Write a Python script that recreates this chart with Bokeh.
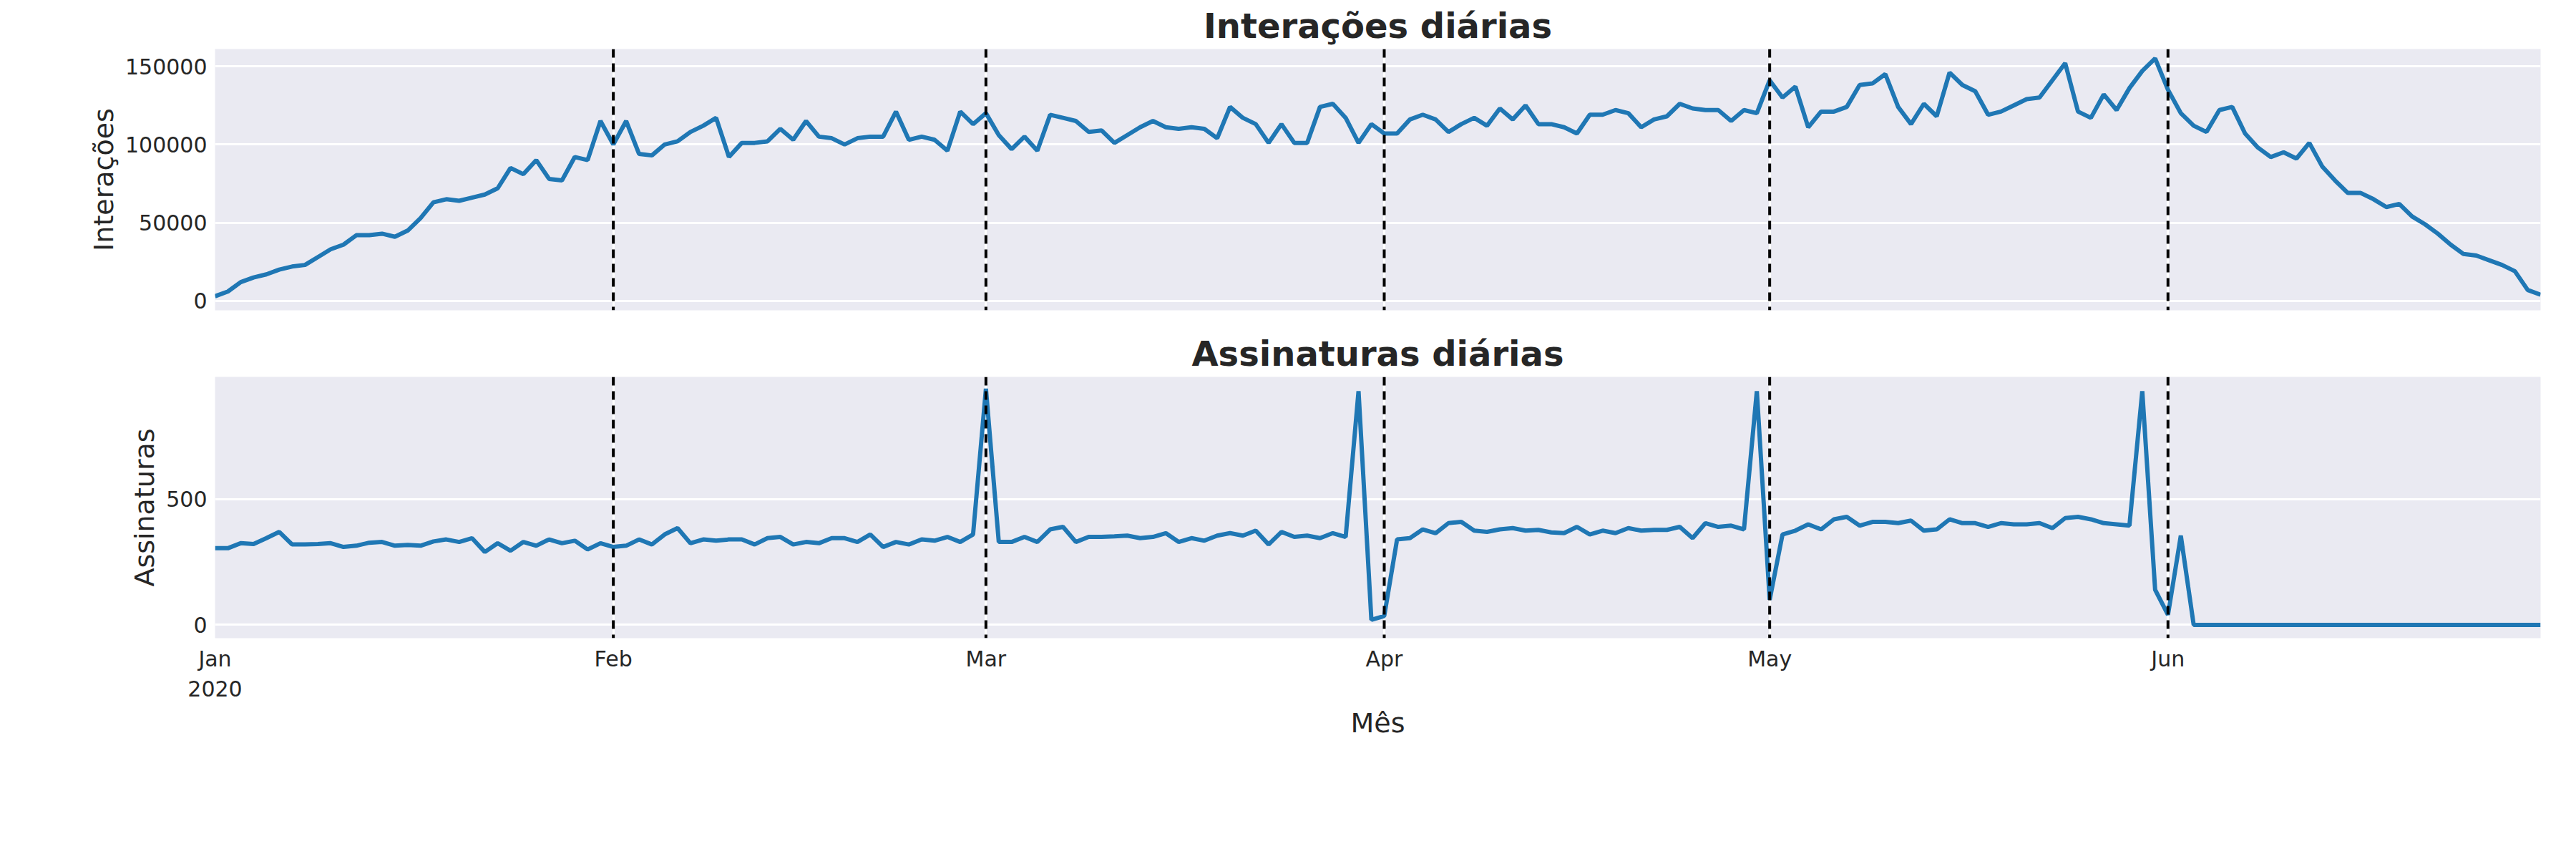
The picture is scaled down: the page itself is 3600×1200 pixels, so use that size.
from bokeh.plotting import figure
from bokeh.layouts import column
from bokeh.models import Span, FixedTicker, NumeralTickFormatter
from bokeh.embed import file_html
from bokeh.resources import INLINE

# daily values, 1 Jan 2020 .. 30 Jun 2020 (day index 0..181)
interacoes = [
    # Jan
    3000, 6000, 12000, 15000, 17000, 20000, 22000, 23000, 28000, 33000, 36000, 42000, 42000, 43000, 41000, 45000,
    53000, 63000, 65000, 64000, 66000, 68000, 72000, 85000, 81000, 90000, 78000, 77000, 92000, 90000, 115000,
    # Feb
    100000, 115000, 94000, 93000, 100000, 102000, 108000, 112000, 117000, 92000, 101000, 101000, 102000, 110000, 103000,
    115000, 105000, 104000, 100000, 104000, 105000, 105000, 121000, 103000, 105000, 103000, 96000, 121000, 113000,
    # Mar
    120000, 106000, 97000, 105000, 96000, 119000, 117000, 115000, 108000, 109000, 101000, 106000, 111000, 115000, 111000,
    110000, 111000, 110000, 104000, 124000, 117000, 113000, 101000, 113000, 101000, 101000, 124000, 126000, 117000,
    101000, 113000,
    # Apr
    107000, 107000, 116000, 119000, 116000, 108000, 113000, 117000, 112000, 123000, 116000, 125000, 113000, 113000,
    111000, 107000, 119000, 119000, 122000, 120000, 111000, 116000, 118000, 126000, 123000, 122000, 122000, 115000,
    122000, 120000,
    # May
    141000, 130000, 137000, 111000, 121000, 121000, 124000, 138000, 139000, 145000, 124000, 113000, 126000, 118000,
    146000, 138000, 134000, 119000, 121000, 125000, 129000, 130000, 141000, 152000, 121000, 117000, 132000, 122000,
    136000, 147000, 155000,
    # Jun
    135000, 120000, 112000, 108000, 122000, 124000, 107000, 98000, 92000, 95000, 91000, 101000, 86000, 77000, 69000,
    69000, 65000, 60000, 62000, 54000, 49000, 43000, 36000, 30000, 29000, 26000, 23000, 19000, 7000, 4000,
]

assinaturas = [
    # Jan
    305, 305, 325, 322, 345, 370, 320, 320, 322, 325, 310, 315, 327, 330, 315, 318, 315, 332, 340, 330, 345, 290,
    325, 295, 330, 315, 340, 325, 335, 300, 325,
    # Feb
    310, 315, 340, 320, 360, 385, 325, 340, 335, 340, 340, 320, 345, 350, 320, 330, 325, 345, 345, 330, 360, 310,
    330, 320, 340, 335, 350, 330, 360,
    # Mar
    940, 330, 330, 350, 330, 380, 390, 330, 350, 350, 352, 355, 345, 350, 365, 330, 345, 335, 355, 365, 355, 375,
    320, 370, 350, 355, 345, 365, 350, 930, 20,
    # Apr
    35, 340, 345, 380, 365, 405, 410, 375, 370, 380, 385, 375, 378, 368, 365, 390, 360, 375, 365, 385, 375, 378,
    378, 390, 345, 405, 390, 395, 380, 930,
    # May
    100, 360, 375, 400, 380, 420, 430, 395, 410, 410, 405, 415, 375, 380, 420, 405, 405, 390, 405, 400, 400, 405,
    385, 425, 430, 420, 405, 400, 395, 930, 140,
    # Jun
    40, 355, 0, 0, 0, 0, 0, 0, 0, 0, 0, 0, 0, 0, 0, 0, 0, 0, 0, 0, 0, 0, 0, 0, 0, 0, 0, 0, 0, 0,
]

dias = list(range(len(interacoes)))
inicio_mes = [0, 31, 60, 91, 121, 152]
nomes_mes = ["Jan\n2020", "Feb", "Mar", "Apr", "May", "Jun"]
marcos = [31, 60, 91, 121, 152]

BG = "#EAEAF2"
FONT = "DejaVu Sans"
COR = "#1f77b4"


def estilo(p, ylabel, yticks):
    p.background_fill_color = BG
    p.outline_line_color = None
    p.title.align = "center"
    p.title.text_font = FONT
    p.title.text_font_size = "48px"
    p.title.text_font_style = "bold"
    p.title.text_color = "#262626"
    p.xgrid.ticker = FixedTicker(ticks=inicio_mes)
    p.ygrid.ticker = FixedTicker(ticks=yticks)
    p.grid.grid_line_color = "white"
    p.grid.grid_line_width = 3
    p.xaxis.ticker = FixedTicker(ticks=inicio_mes)
    p.yaxis.ticker = FixedTicker(ticks=yticks)
    p.yaxis.formatter = NumeralTickFormatter(format="0")
    for ax in p.axis:
        ax.axis_line_color = None
        ax.major_tick_line_color = None
        ax.minor_tick_line_color = None
        ax.major_label_text_font = FONT
        ax.major_label_text_font_size = "30px"
        ax.major_label_text_color = "#262626"
        ax.axis_label_text_font = FONT
        ax.axis_label_text_font_size = "38px"
        ax.axis_label_text_font_style = "normal"
        ax.axis_label_text_color = "#262626"
    p.yaxis.axis_label = ylabel
    for d in marcos:
        p.add_layout(Span(location=d, dimension="height", line_color="black",
                          line_width=4, line_dash="12 8"))


p1 = figure(width=3580, frame_height=365, title="Interações diárias", x_range=(0, 181),
            y_range=(-6000, 161000), output_backend="svg", toolbar_location=None,
            min_border_left=300, min_border_right=30, min_border_bottom=25, min_border_top=25)
estilo(p1, "Interações", [0, 50000, 100000, 150000])
p1.xaxis.visible = False
p1.line(dias, interacoes, line_color=COR, line_width=6)

p2 = figure(width=3580, frame_height=365, title="Assinaturas diárias", x_range=p1.x_range,
            y_range=(-53, 987), output_backend="svg", toolbar_location=None,
            min_border_left=300, min_border_right=30, min_border_top=40, min_border_bottom=30)
estilo(p2, "Assinaturas", [0, 500])
p2.xaxis.axis_label = "Mês"
p2.xaxis.major_label_overrides = {k: v for k, v in zip(inicio_mes, nomes_mes)}
p2.xaxis.major_label_text_align = "left"
p2.line(dias, assinaturas, line_color=COR, line_width=6)

p = column(p1, p2)
open("out.html", "w").write(file_html(p, INLINE))
